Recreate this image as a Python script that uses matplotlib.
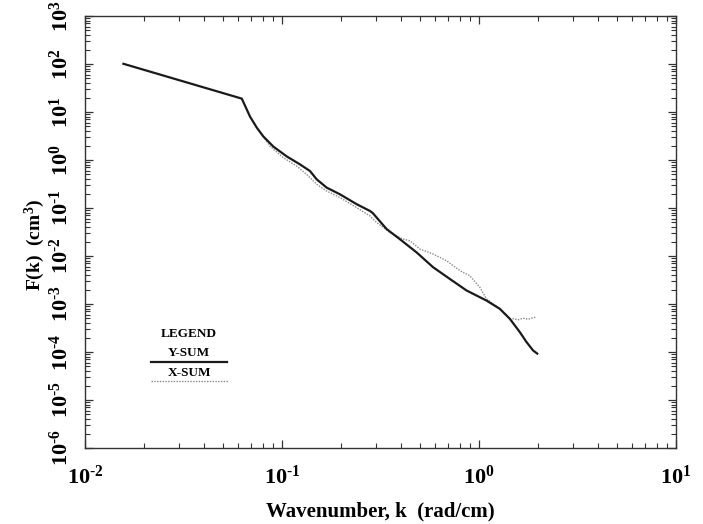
import numpy as np
import matplotlib
matplotlib.use("Agg")
import matplotlib.pyplot as plt
from matplotlib.ticker import LogLocator, FuncFormatter, NullFormatter
from matplotlib.lines import Line2D

# Y-SUM spectrum (solid)
k_ysum = [0.01567, 0.0625, 0.0688, 0.0744, 0.0804, 0.0903, 0.1056, 0.1234,
          0.1387, 0.150, 0.1685, 0.1968, 0.2394, 0.279, 0.2893, 0.302, 0.340,
          0.396, 0.482, 0.585, 0.711, 0.865, 1.091, 1.275, 1.433, 1.610,
          1.741, 1.880, 1.975]
f_ysum = [101, 19.0, 8.03, 4.75, 3.09, 1.91, 1.19, 0.81,
          0.589, 0.396, 0.266, 0.193, 0.120, 0.0871, 0.078, 0.0635, 0.0363,
          0.0225, 0.0119, 0.00583, 0.00333, 0.00191, 0.00118, 0.000794,
          0.000493, 0.000261, 0.000162, 0.000108, 0.0000927]

# X-SUM spectrum (dotted)
k_xsum = [0.0804, 0.0869, 0.1012, 0.1187, 0.1333, 0.150, 0.1685, 0.1968,
          0.2394, 0.279, 0.302, 0.353, 0.411, 0.446, 0.501, 0.585, 0.684,
          0.800, 0.897, 1.009, 1.091, 1.275, 1.433, 1.489, 1.58, 1.674, 1.78,
          1.880, 1.963]
f_xsum = [3.09, 1.94, 1.13, 0.747, 0.503, 0.312, 0.226, 0.165,
          0.102, 0.0686, 0.050, 0.031, 0.0225, 0.0208, 0.01397, 0.0110,
          0.00798, 0.00495, 0.0039, 0.00224, 0.00128, 0.000794, 0.000493,
          0.000493, 0.00047, 0.000505, 0.00048, 0.00052, 0.000535]

plt.rcParams['font.family'] = ['Liberation Serif', 'DejaVu Serif']
plt.rcParams['font.weight'] = 'bold'
plt.rcParams['mathtext.default'] = 'regular'


def pow10(v, pos):
    e = int(round(np.log10(v)))
    return '$\\mathdefault{10^{%s}}$' % str(e).replace('-', '\u2010')


fig = plt.figure(figsize=(7.03, 5.24), dpi=100)
ax = fig.add_axes([85 / 703, 1 - 448 / 524, 591 / 703, 432 / 524])

ax.plot(k_xsum, f_xsum, color='#888888', lw=1.0, linestyle=(0, (1, 1)))
ax.plot(k_ysum, f_ysum, color='#1a1a1a', lw=1.6)

ax.set_xscale('log')
ax.set_yscale('log')
ax.set_xlim(1e-2, 1e1)
ax.set_ylim(1e-6, 1e3)

for axis in (ax.xaxis, ax.yaxis):
    axis.set_major_locator(LogLocator(base=10, numticks=20))
    axis.set_minor_locator(LogLocator(base=10, subs=np.arange(2, 10), numticks=200))
    axis.set_major_formatter(FuncFormatter(pow10))
    axis.set_minor_formatter(NullFormatter())

ax.tick_params(which='both', direction='in', top=True, right=True, color='#333333')
ax.tick_params(which='major', length=6, width=0.9)
ax.tick_params(which='minor', length=3.5, width=0.8)
ax.tick_params(axis='x', labelsize=16, pad=13)
ax.tick_params(axis='y', labelsize=16, pad=9)
for lab in ax.get_yticklabels():
    lab.set_rotation(90)
    lab.set_va('center')
for lab in ax.get_xticklabels() + ax.get_yticklabels():
    lab.set_fontweight('bold')

for sp in ax.spines.values():
    sp.set_linewidth(1.0)
    sp.set_color('#333333')

ax.set_xlabel('Wavenumber, k  (rad/cm)', fontsize=15, fontweight='bold', labelpad=9)
ax.set_ylabel('F(k)  (cm$^3$)', fontsize=14, fontweight='bold')
ax.yaxis.set_label_coords(-0.064, 0.47)

# legend block
ax.text(0.176, 0.264, 'LEGEND', transform=ax.transAxes, ha='center', va='center',
        fontsize=9.5)
ax.text(0.176, 0.220, 'Y-SUM', transform=ax.transAxes, ha='center', va='center',
        fontsize=9.5)
ax.add_line(Line2D([0.112, 0.240], [0.199, 0.199], transform=ax.transAxes,
                   color='#1a1a1a', lw=1.6))
ax.text(0.176, 0.174, 'X-SUM', transform=ax.transAxes, ha='center', va='center',
        fontsize=9.5)
ax.add_line(Line2D([0.112, 0.242], [0.155, 0.155], transform=ax.transAxes,
                   color='#888888', lw=1.0, linestyle=(0, (1, 1))))

fig.savefig('out.png', dpi=100)
